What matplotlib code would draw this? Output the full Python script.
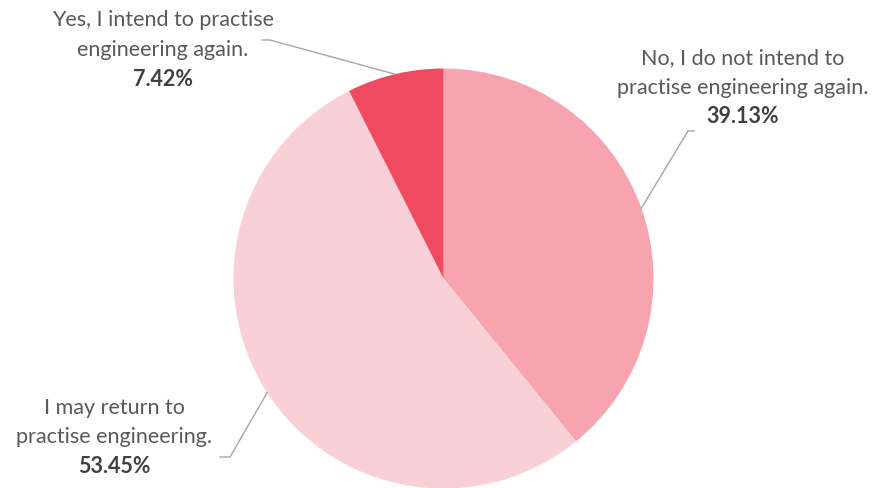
import numpy as np
import matplotlib.pyplot as plt

labels = ['No, I do not intend to\npractise engineering again.',
          'I may return to\npractise engineering.',
          'Yes, I intend to practise\nengineering again.']
shares = [39.13, 53.45, 7.42]
colors = ['#F7A4AE', '#FAD0D7', '#EF4A5F']

W, H = 879, 489
cx, cy, r = 443.5, H - 279.5, 210

# centre of the first label line and where its leader line ends (pixels, y down)
label_pos = [(743, 58), (114, 408), (163, 20)]
leader_end = [[(688, 132), (694, 132)], [(230, 458), (220, 458)], [(270, 41), (262, 41)]]
line_step = 29.5

plt.rcParams['font.family'] = ['Lato', 'DejaVu Sans']

fig = plt.figure(figsize=(W / 100, H / 100), dpi=100)
ax = fig.add_axes([0, 0, 1, 1])
wedges, _ = ax.pie(shares, colors=colors, startangle=90, counterclock=False,
                   center=(cx, cy), radius=r, wedgeprops=dict(linewidth=0))
ax.set_xlim(0, W)
ax.set_ylim(0, H)
ax.set_aspect('equal')
ax.axis('off')

for w, lab, pct, (lx, ly), pts in zip(wedges, labels, shares, label_pos, leader_end):
    mid = np.deg2rad((w.theta1 + w.theta2) / 2)
    sx, sy = cx + r * np.cos(mid), cy + r * np.sin(mid)
    xs = [sx] + [p[0] for p in pts]
    ys = [sy] + [H - p[1] for p in pts]
    ax.plot(xs, ys, color='#A6A6A6', lw=1)
    lines = lab.split('\n')
    for i, line in enumerate(lines):
        ax.text(lx, H - ly - line_step * i, line, ha='center', va='center',
                fontsize=15.5, color='#595959')
    ax.text(lx, H - ly - line_step * len(lines), f'{pct:.2f}%', ha='center',
            va='center', fontsize=15.5, fontweight='bold', color='#404040')

fig.savefig('out.png', dpi=100)
